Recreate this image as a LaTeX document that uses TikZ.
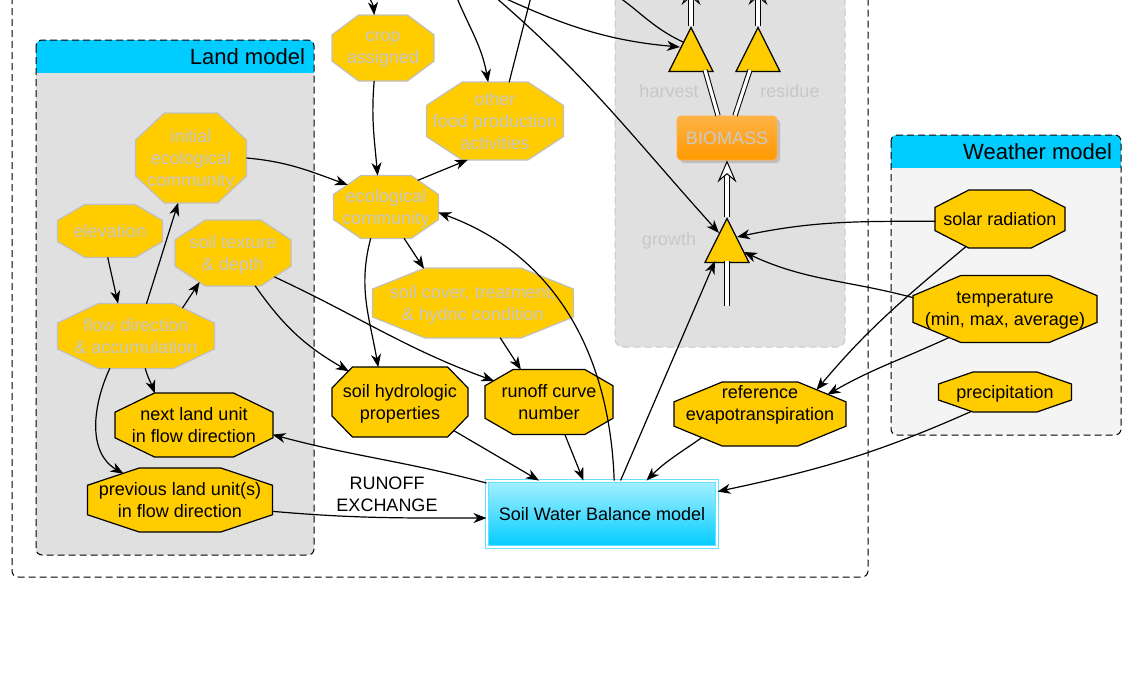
\documentclass[tikz,border=0pt]{standalone}
\usepackage{fontspec}
\setmainfont{Liberation Sans}
\usetikzlibrary{shapes.geometric, arrows.meta, calc, shadows}

\definecolor{octfill}{HTML}{FFCC00}
\definecolor{ghostline}{HTML}{C0C0C0}
\definecolor{ghosttext}{HTML}{C8C8C8}
\definecolor{headcyan}{HTML}{00CCFF}
\definecolor{landgray}{HTML}{E0E0E0}
\definecolor{weathergray}{HTML}{F4F4F4}
\definecolor{cropline}{HTML}{C8C8C8}
\definecolor{bioorange}{HTML}{FF9900}
\definecolor{biolight}{HTML}{FFB347}
\definecolor{swbtop}{HTML}{A6F0FF}
\definecolor{swbedge}{HTML}{66E0FF}

% octagon with flat sides, chamfer as fraction of width and height
\makeatletter
\pgfkeys{/pgf/octa cx/.initial=0.26, /pgf/octa cy/.initial=0.3}
\pgfdeclareshape{octa}{
  \inheritsavedanchors[from=rectangle]
  \inheritanchor[from=rectangle]{center}
  \inheritanchor[from=rectangle]{text}
  \inheritanchor[from=rectangle]{north}
  \inheritanchor[from=rectangle]{south}
  \inheritanchor[from=rectangle]{east}
  \inheritanchor[from=rectangle]{west}
  \savedmacro\octaparams{%
    \edef\octa@fx{\pgfkeysvalueof{/pgf/octa cx}}%
    \edef\octa@fy{\pgfkeysvalueof{/pgf/octa cy}}%
    \addtosavedmacro\octa@fx
    \addtosavedmacro\octa@fy
  }
  \backgroundpath{%
    \octaparams
    \southwest\edef\octa@xa{\the\pgf@x}\edef\octa@ya{\the\pgf@y}%
    \northeast\edef\octa@xb{\the\pgf@x}\edef\octa@yb{\the\pgf@y}%
    \pgfmathsetmacro\octa@cx{\octa@fx*((\octa@xb)-(\octa@xa))}%
    \pgfmathsetmacro\octa@cy{\octa@fy*((\octa@yb)-(\octa@ya))}%
    \pgfpathmoveto{\pgfpoint{(\octa@xa)+\octa@cx}{\octa@yb}}%
    \pgfpathlineto{\pgfpoint{(\octa@xb)-\octa@cx}{\octa@yb}}%
    \pgfpathlineto{\pgfpoint{\octa@xb}{(\octa@yb)-\octa@cy}}%
    \pgfpathlineto{\pgfpoint{\octa@xb}{(\octa@ya)+\octa@cy}}%
    \pgfpathlineto{\pgfpoint{(\octa@xb)-\octa@cx}{\octa@ya}}%
    \pgfpathlineto{\pgfpoint{(\octa@xa)+\octa@cx}{\octa@ya}}%
    \pgfpathlineto{\pgfpoint{\octa@xa}{(\octa@ya)+\octa@cy}}%
    \pgfpathlineto{\pgfpoint{\octa@xa}{(\octa@yb)-\octa@cy}}%
    \pgfpathclose
  }
  \anchorborder{%
    \edef\octa@dx{\the\pgf@x}\edef\octa@dy{\the\pgf@y}%
    \octaparams
    \southwest\edef\octa@xa{\the\pgf@x}\edef\octa@ya{\the\pgf@y}%
    \northeast\edef\octa@xb{\the\pgf@x}\edef\octa@yb{\the\pgf@y}%
    \pgfmathsetmacro\octa@a{((\octa@xb)-(\octa@xa))/2}%
    \pgfmathsetmacro\octa@b{((\octa@yb)-(\octa@ya))/2}%
    \pgfmathsetmacro\octa@cx{2*\octa@fx*\octa@a}%
    \pgfmathsetmacro\octa@cy{2*\octa@fy*\octa@b}%
    \pgfmathsetmacro\octa@len{veclen(\octa@dx,\octa@dy)}%
    \pgfmathsetmacro\octa@nx{(\octa@dx)/\octa@len}%
    \pgfmathsetmacro\octa@ny{(\octa@dy)/\octa@len}%
    \pgfmathsetmacro\octa@ux{abs(\octa@nx)+0.005}%
    \pgfmathsetmacro\octa@uy{abs(\octa@ny)+0.005}%
    \pgfmathsetmacro\octa@k{\octa@cy*\octa@a+\octa@cx*\octa@b-\octa@cx*\octa@cy}%
    \pgfmathsetmacro\octa@t{min(\octa@a/\octa@ux,\octa@b/\octa@uy,\octa@k/(\octa@cy*\octa@ux+\octa@cx*\octa@uy))}%
    \pgfmathsetlength\pgf@x{\octa@t*\octa@nx+((\octa@xa)+(\octa@xb))/2}%
    \pgfmathsetlength\pgf@y{\octa@t*\octa@ny+((\octa@ya)+(\octa@yb))/2}%
  }
}
\makeatother

\tikzset{
  nodefont/.style={font=\fontsize{9pt}{11pt}\selectfont},
  oct/.style 2 args={shape=octa, minimum width=#1, minimum height=#2,
    inner sep=0pt, outer sep=0pt, text depth=0pt, fill=octfill, align=center, nodefont},
  ghost/.style={draw=ghostline, text=ghosttext, line width=0.6pt},
  live/.style={draw=black, text=black, line width=0.6pt},
  tri/.style={isosceles triangle, isosceles triangle stretches, shape border rotate=90,
    minimum width=22pt, minimum height=22pt, inner sep=0pt, fill=octfill,
    draw=black, line width=0.6pt, anchor=apex},
  arr/.style={-{Stealth[length=6.5pt, width=5pt, inset=2pt]}, line width=0.6pt},
  dbl/.style={double=white, double distance=1.6pt, line width=0.5pt},
  dblarr/.style={dbl, -{Stealth[length=11pt, width=9.5pt, inset=4pt, fill=white, line width=0.5pt]}},
  panel/.style={dash pattern=on 3.5pt off 2pt, line width=0.5pt, rounded corners=3pt},
  lbl/.style={text=ghosttext, nodefont},
}

\begin{document}
\begin{tikzpicture}[x=0.5pt, y=0.5pt]
\useasboundingbox (0,0) rectangle (1140,-696);

% outer frame
\draw[panel] (12,20) rectangle (868,-577);

% crop model
\draw[cropline, fill=landgray, dash pattern=on 3.5pt off 2pt, line width=0.5pt, rounded corners=4pt]
  (615,20) rectangle (845,-347);

% land and weather panels
\foreach \xa/\ya/\xb/\yb/\body in {36/40/314/555/landgray, 891/135/1121/435/weathergray} {
  \begin{scope}
    \clip[rounded corners=3pt] (\xa,-\ya) rectangle (\xb,-\yb);
    \fill[\body] (\xa,-\ya) rectangle (\xb,-\yb);
    \fill[headcyan] (\xa,-\ya) rectangle (\xb,-\ya-33);
  \end{scope}
  \draw[panel] (\xa,-\ya) rectangle (\xb,-\yb);
}
\node[anchor=east, font=\fontsize{11pt}{13pt}\selectfont] (landttl) at (312,-57) {Land model};
\node[anchor=east, font=\fontsize{11pt}{13pt}\selectfont] (weatherttl) at (1119,-152) {Weather model};

% ghost nodes
\node[oct={51pt}{33pt}, ghost] (crop) at (383,-48) {crop\\assigned};
\node[oct={68.5pt}{39pt}, ghost] (other) at (495,-121) {other\\food production\\activities};
\node[oct={55.5pt}{45pt}, ghost] (initeco) at (191,-158) {initial\\ecological\\community};
\node[oct={52.5pt}{26.5pt}, ghost] (elev) at (110,-231) {elevation};
\node[oct={58pt}{33pt}, ghost] (texture) at (233,-253) {soil texture\\\& depth};
\node[oct={78.5pt}{32.5pt}, ghost] (flowdir) at (136,-336) {flow direction\\\& accumulation};
\node[oct={52.5pt}{31.5pt}, ghost] (eco) at (386,-207) {ecological\\community};
\node[oct={100.5pt}{35pt}, ghost] (cover) at (473,-303) {soil cover, treatment,\\\& hydric condition};

% live nodes
\node[oct={68pt}{35pt}, live, octa cx=0.15] (hydro) at (400,-402) {soil hydrologic\\properties};
\node[oct={64pt}{32.5pt}, live, octa cx=0.22, octa cy=0.25] (curve) at (549,-402) {runoff curve\\number};
\node[oct={86pt}{32pt}, live, octa cx=0.28, octa cy=0.31, text depth=11pt] (refet) at (760,-414) {reference\\evapotranspiration};
\node[oct={79pt}{32pt}, live, octa cx=0.25] (nextlu) at (194,-425) {next land unit\\in flow direction};
\node[oct={92.5pt}{32pt}, live, octa cx=0.28, octa cy=0.27] (prevlu) at (180,-500) {previous land unit(s)\\in flow direction};
\node[oct={65pt}{29pt}, live] (solar) at (1000,-219) {solar radiation};
\node[oct={92pt}{33.5pt}, live] (temp) at (1005,-309) {temperature\\(min, max, average)};
\node[oct={66.5pt}{20pt}, live] (precip) at (1005,-392) {precipitation};

% biomass and water balance
\node[rectangle, rounded corners=2pt, minimum width=50pt, minimum height=22pt,
  top color=biolight, bottom color=bioorange, draw=biolight, text=ghosttext, nodefont,
  drop shadow={shadow xshift=1.5pt, shadow yshift=-1.5pt, opacity=0.35}] (bio) at (727,-138) {BIOMASS};
\node[rectangle, minimum width=115pt, minimum height=33pt, top color=swbtop, bottom color=headcyan,
  draw=swbedge, double=white, double distance=0.7pt, line width=0.5pt, nodefont] (swb) at (602,-514)
  {Soil Water Balance model};

% triangles
\node[tri] (harv) at (691,-26) {};
\node[tri] (resid) at (758,-26) {};
\node[tri] (grow) at (727,-217) {};
\node[lbl] (harvlbl) at (669,-91) {harvest};
\node[lbl] (residlbl) at (790,-91) {residue};
\node[lbl] (growlbl) at (669,-241) {growth};
\node[nodefont, align=center] (runoff) at (387,-494) {RUNOFF\\EXCHANGE};

% free ends and points on triangles
\coordinate (inA) at (366,15);
\coordinate (inB) at (452,15);
\coordinate (outC) at (534,15);
\coordinate (inD) at (476,15);
\coordinate (inE) at (481,15);
\coordinate (outF) at (596,15);
\coordinate (harvtop) at (691,17);
\coordinate (residtop) at (758,17);
\coordinate (growfeed) at (727,-306);
\coordinate (harvL) at ($(harv.apex)+(-11,-21)$);
\coordinate (harvUL) at ($(harv.apex)+(-8,-16)$);
\coordinate (harvB) at ($(harv.apex)+(14,-44)$);
\coordinate (residB) at ($(resid.apex)+(-8,-44)$);
\coordinate (growL) at ($(grow.apex)+(-8,-16)$);
\coordinate (growB) at ($(grow.apex)+(0,-44)$);
\coordinate (growBL) at ($(grow.apex)+(-12,-44)$);
\coordinate (growR1) at ($(grow.apex)+(10,-20)$);
\coordinate (growR2) at ($(grow.apex)+(17,-35)$);

% flows of the crop model
\draw[dbl] (growfeed) -- (growB);
\draw[dblarr] (grow.apex) -- (bio.south);
\draw[dbl] ($(bio.north)+(-9,0)$) -- (harvB);
\draw[dbl] ($(bio.north)+(8,0)$) -- (residB);
\draw[dblarr] (harv.apex) -- (harvtop);
\draw[dblarr] (resid.apex) -- (residtop);

% connectors
\draw[arr] (inA) to[out=-85, in=95] (crop.105);
\draw[arr] (crop.255) to[out=-95, in=95] (eco.105);
\draw[arr] (initeco.east) to[out=-5, in=160] (eco.150);
\draw[arr] (eco.40) -- (other.235);
\draw[arr] (inB) to[out=-70, in=100] (other.100);
\draw[arr] (other.70) -- (outC);
\draw[arr] (inD) to[out=-25, in=175] (harvL);
\draw[arr] (inE) to[out=-40, in=132] (growL);
\draw[arr] (harvUL) to[out=155, in=-25] (outF);
\draw[arr] (elev.265) -- (flowdir.119);
\draw[arr] (flowdir.72) -- (initeco.254);
\draw[arr] (flowdir.31) -- (texture.221);
\draw[arr] (flowdir.286) to[out=-75, in=110] (nextlu.141);
\draw[arr] (flowdir.231) to[out=245, in=150] (prevlu.155);
\draw[arr] (texture.304) to[out=-55, in=150] (hydro.149);
\draw[arr] (texture.330) to[out=-25, in=160] (curve.159);
\draw[arr] (eco.244) to[out=-105, in=100] (hydro.122);
\draw[arr] (eco.300) -- (cover.145);
\draw[arr] (cover.308) -- (curve.131);
\draw[arr] (swb.70) to[out=92, in=-20] (eco.354);
\draw[arr] (swb.61) -- (growBL);
\draw[arr] (hydro.332) -- (swb.152);
\draw[arr] (curve.296) -- (swb.119);
\draw[arr] (refet.202) to[out=215, in=45] (swb.37);
\draw[arr] (swb.165) to[out=165, in=-15] (nextlu.353);
\draw[arr] (prevlu.353) to[out=-5, in=180] (swb.182);
\draw[arr] (solar.182) to[out=180, in=12] (growR1);
\draw[arr] (temp.173) to[out=165, in=-25] (growR2);
\draw[arr] (solar.219) to[out=220, in=50] (refet.23);
\draw[arr] (temp.207) to[out=205, in=30] (refet.16);
\draw[arr] (precip.210) to[out=204, in=12] (swb.11);
\end{tikzpicture}
\end{document}
